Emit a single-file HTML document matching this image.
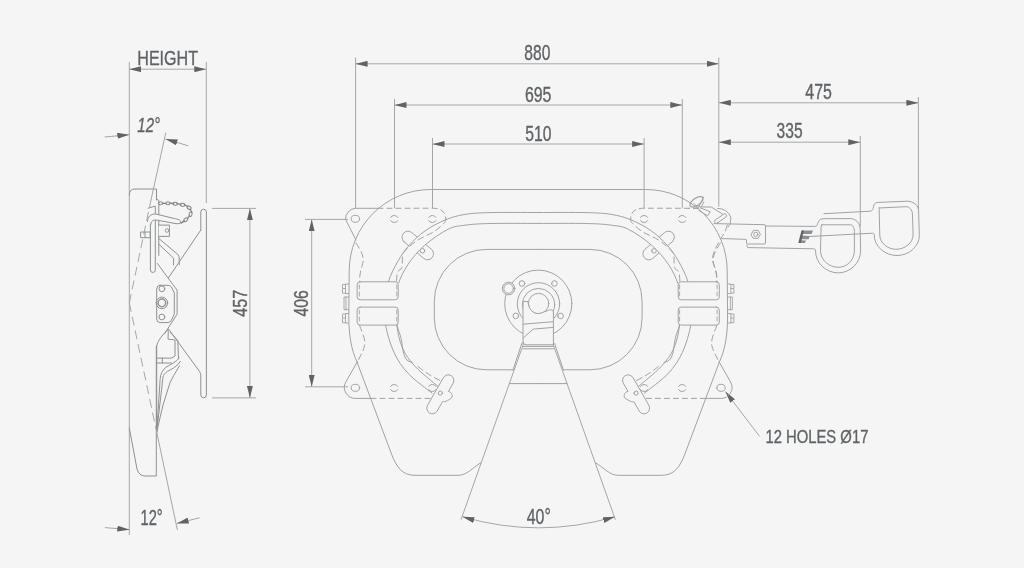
<!DOCTYPE html>
<html><head><meta charset="utf-8">
<style>
html,body{margin:0;padding:0;background:#f5f5f5;overflow:hidden;}
svg{display:block;will-change:transform;}
text{font-family:"Liberation Sans",sans-serif;fill:#5f6366;}
</style></head>
<body>
<svg width="1024" height="568" viewBox="0 0 1024 568">
<defs>
<marker id="ar" viewBox="0 0 12 6" refX="12" refY="3" markerWidth="12" markerHeight="6" markerUnits="userSpaceOnUse" orient="auto-start-reverse">
<path d="M0,0 L12,3 L0,6 Z" fill="#5f6365"/>
</marker>
</defs>
<rect width="1024" height="568" fill="#f5f5f5"/>
<g stroke="#a5a7a7" stroke-width="1" fill="none">
  <line x1="129.3" y1="62" x2="129.3" y2="535"/>
  <line x1="206.3" y1="62" x2="206.3" y2="203"/>
  <line x1="129.3" y1="69.2" x2="206.3" y2="69.2" marker-start="url(#ar)" marker-end="url(#ar)"/>
  <line x1="104.7" y1="137" x2="129.3" y2="134.7" marker-end="url(#ar)"/>
  <line x1="188.3" y1="145.8" x2="165.5" y2="139" marker-end="url(#ar)"/>
  <line x1="104.8" y1="527.6" x2="129.3" y2="529.6" marker-end="url(#ar)"/>
  <line x1="199.6" y1="517.8" x2="176.7" y2="523.4" marker-end="url(#ar)"/>
  <line x1="212" y1="208.4" x2="256" y2="208.4"/>
  <line x1="212" y1="397.9" x2="256" y2="397.9"/>
  <line x1="249.9" y1="208.4" x2="249.9" y2="397.9" marker-start="url(#ar)" marker-end="url(#ar)"/>
  <line x1="305" y1="219.4" x2="348" y2="219.4"/>
  <line x1="305" y1="386.8" x2="348" y2="386.8"/>
  <line x1="311.7" y1="219.4" x2="311.7" y2="386.8" marker-start="url(#ar)" marker-end="url(#ar)"/>
  <line x1="355.6" y1="57.5" x2="355.6" y2="208.3"/>
  <line x1="718.8" y1="57.5" x2="718.8" y2="206.6"/>
  <line x1="355.6" y1="63.8" x2="718.8" y2="63.8" marker-start="url(#ar)" marker-end="url(#ar)"/>
  <line x1="394.5" y1="99" x2="394.5" y2="208.3"/>
  <line x1="682.3" y1="99" x2="682.3" y2="208.3"/>
  <line x1="394.5" y1="105" x2="682.3" y2="105" marker-start="url(#ar)" marker-end="url(#ar)"/>
  <line x1="432.5" y1="138" x2="432.5" y2="208.3"/>
  <line x1="644.1" y1="138" x2="644.1" y2="208.3"/>
  <line x1="432.5" y1="144" x2="644.1" y2="144" marker-start="url(#ar)" marker-end="url(#ar)"/>
  <line x1="918.4" y1="97" x2="918.4" y2="209"/>
  <line x1="718.8" y1="102.8" x2="918.4" y2="102.8" marker-start="url(#ar)" marker-end="url(#ar)"/>
  <line x1="860.3" y1="136" x2="860.3" y2="226.5"/>
  <line x1="718.8" y1="142.2" x2="860.3" y2="142.2" marker-start="url(#ar)" marker-end="url(#ar)"/>
  <line x1="522.7" y1="346" x2="461" y2="519.7"/>
  <line x1="553.7" y1="346" x2="615.4" y2="519.7"/>
  <path d="M462.5,516.7 Q538.2,539 615,516.7" marker-start="url(#ar)" marker-end="url(#ar)"/>
  <line x1="759.6" y1="436.4" x2="725.4" y2="391.5" marker-end="url(#ar)"/>
</g>
<g stroke="#5f6366" stroke-width="0.35" style="opacity:0.995">
<text x="137.3" y="65.2" font-size="20.5" textLength="60.7" lengthAdjust="spacingAndGlyphs">HEIGHT</text>
<text x="524.3" y="60.1" font-size="21.5" textLength="26" lengthAdjust="spacingAndGlyphs">880</text>
<text x="524.9" y="101.8" font-size="21.5" textLength="26.6" lengthAdjust="spacingAndGlyphs">695</text>
<text x="525.3" y="140.6" font-size="21.5" textLength="26.2" lengthAdjust="spacingAndGlyphs">510</text>
<text x="805.3" y="98.9" font-size="21.5" textLength="26.6" lengthAdjust="spacingAndGlyphs">475</text>
<text x="776.6" y="138.4" font-size="21.5" textLength="26" lengthAdjust="spacingAndGlyphs">335</text>
<text x="137.3" y="132.2" font-size="21" font-style="italic" textLength="22.8" lengthAdjust="spacingAndGlyphs">12°</text>
<text x="140.5" y="525.2" font-size="21.5" textLength="22.2" lengthAdjust="spacingAndGlyphs">12°</text>
<text x="526.8" y="524.2" font-size="21.5" textLength="24" lengthAdjust="spacingAndGlyphs">40°</text>
<text x="765.4" y="443.2" font-size="19" textLength="103" lengthAdjust="spacingAndGlyphs">12 HOLES Ø17</text>
<text transform="translate(246.8,316.8) rotate(-90)" font-size="20.5" textLength="27" lengthAdjust="spacingAndGlyphs">457</text>
<text transform="translate(308.2,316.5) rotate(-90)" font-size="20.5" textLength="26.4" lengthAdjust="spacingAndGlyphs">406</text>
</g>
<g stroke="#a0a3a3" stroke-width="1" fill="none" stroke-linejoin="round" stroke-linecap="round">
<g id="half">
<path d="M538.2,189.5 L430.7,189.5 A81.5,81.5 0 0 0 349.2,271 L348.8,316 C348.8,336 351.5,350 357,362 L391.5,454 C396.5,467 402,475.3 415,475.3 L458,475.3 C467,475.3 472,468 480.8,462.8"/>
<path d="M378,208.3 L432.4,208.2 Q445.7,208.2 445.7,218.75" stroke-dasharray="5,4"/>
<path d="M357.5,361.5 L345.8,382 A11,11 0 0 0 356,398.4 L371,398.4"/>
<ellipse cx="355.4" cy="387.8" rx="4.2" ry="3.5"/>
<path d="M371,398.4 L431,398.4" stroke-dasharray="5,4"/>
<path d="M356,243 C362,252 365,258 362,266 C360,272 359.5,278 359.5,282" stroke-dasharray="6,4"/>
<path d="M359.6,325.6 C362,332 366,340 364.5,346 C363,352 360,356 358,361" stroke-dasharray="6,4"/>
<path d="M404.11,241.77 L423.61,258.37 A6.00,6.00 0 0 0 431.39,249.23 L411.89,232.63 A6.00,6.00 0 0 0 404.11,241.77 Z" fill="#f5f5f5"/>
<circle cx="422.4" cy="250.8" r="2.3"/>
<path d="M538.20,212.50 C524.63,212.52 502.20,212.28 490.00,212.60 C477.80,212.92 472.45,213.18 465.00,214.40 C457.55,215.62 451.97,217.15 445.30,219.90 C438.63,222.65 431.03,226.65 425.00,230.90 C418.97,235.15 413.60,240.38 409.10,245.40 C404.60,250.42 401.45,254.93 398.00,261.00 C394.55,267.07 390.52,274.80 388.40,281.80 C386.28,288.80 385.77,295.80 385.30,303.00 C384.83,310.20 384.15,316.77 385.60,325.00 C387.05,333.23 390.23,344.32 394.00,352.40 C397.77,360.48 401.85,366.70 408.20,373.50 C414.55,380.30 428.12,389.92 432.10,393.20 L437.70,386.20C433.95,382.92 421.07,372.83 415.20,366.50 C409.33,360.17 405.57,355.12 402.50,348.20 C399.43,341.28 397.78,332.53 396.80,325.00 C395.82,317.47 396.37,309.73 396.60,303.00 C396.83,296.27 396.30,291.03 398.20,284.60 C400.10,278.17 403.60,270.93 408.00,264.40 C412.40,257.87 417.93,251.25 424.60,245.40 C431.27,239.55 441.27,232.67 448.00,229.30 C454.73,225.93 458.00,226.17 465.00,225.20 C472.00,224.23 477.80,223.80 490.00,223.50 C502.20,223.20 524.63,223.42 538.20,223.40 Z" fill="#f5f5f5" stroke="none"/>
<path d="M538.20,212.50 C524.63,212.52 502.20,212.28 490.00,212.60 C477.80,212.92 472.45,213.18 465.00,214.40 C457.55,215.62 451.97,217.15 445.30,219.90 C438.63,222.65 431.03,226.65 425.00,230.90 C418.97,235.15 413.60,240.38 409.10,245.40 C404.60,250.42 401.45,254.93 398.00,261.00 C394.55,267.07 390.52,274.80 388.40,281.80 C386.28,288.80 385.77,295.80 385.30,303.00 C384.83,310.20 384.15,316.77 385.60,325.00 C387.05,333.23 390.23,344.32 394.00,352.40 C397.77,360.48 401.85,366.70 408.20,373.50 C414.55,380.30 428.12,389.92 432.10,393.20"/>
<path d="M538.20,223.40 C524.63,223.42 502.20,223.20 490.00,223.50 C477.80,223.80 472.00,224.23 465.00,225.20 C458.00,226.17 454.73,225.93 448.00,229.30 C441.27,232.67 431.27,239.55 424.60,245.40 C417.93,251.25 412.40,257.87 408.00,264.40 C403.60,270.93 400.10,278.17 398.20,284.60 C396.30,291.03 396.83,296.27 396.60,303.00 C396.37,309.73 395.82,317.47 396.80,325.00 C397.78,332.53 399.43,341.28 402.50,348.20 C405.57,355.12 409.33,360.17 415.20,366.50 C421.07,372.83 433.95,382.92 437.70,386.20"/>
<path d="M445.70,218.75 C445.50,219.41 446.25,220.67 444.50,222.70 C442.75,224.72 438.18,228.77 435.20,230.90 C432.22,233.03 429.43,234.02 426.60,235.50 C423.77,236.98 420.97,238.05 418.20,239.80 C415.43,241.55 412.37,243.97 410.00,246.00 C407.63,248.03 405.25,250.33 404.00,252.00 C402.75,253.67 402.87,253.38 402.50,256.00 C402.13,258.62 402.63,265.03 401.80,267.70 C400.97,270.37 398.38,269.62 397.50,272.00 C396.62,274.38 396.67,280.33 396.50,282.00" stroke-dasharray="6,4"/>
<path d="M396.9,325 C398,330 400,333 401,338.3 C402,342 402,345 402.5,346.8 C403,352 404,355 405.4,358 C407,361 410,362 412.4,362.3" />
<path d="M418,366.5 C426,373 434,378 443.4,382" stroke-dasharray="6,4"/>
<rect x="356.5" y="283" width="42.5" height="41" fill="#f5f5f5" stroke="none"/>
<rect x="357.1" y="281.8" width="41.1" height="18" rx="3" fill="#f5f5f5"/>
<rect x="357.1" y="307.1" width="41.1" height="18" rx="3" fill="#f5f5f5"/>
<path d="M359.3,285 L359.3,297 M396.8,285 L396.8,297 M359.3,310 L359.3,322 M396.8,310 L396.8,322" stroke-dasharray="4,3" stroke-width="0.9"/>
<path d="M348.5,284 L345.5,284 L345.5,293.5 L348.5,293.5 M345.5,284.5 L342.5,284.5 L342.5,288.5 L345.5,288.5 M342.5,289.2 L342.5,293.2 L345.5,293.2" stroke-width="0.9"/>
<path d="M348.5,313.5 L345.5,313.5 L345.5,323 L348.5,323 M345.5,314 L342.5,314 L342.5,318 L345.5,318 M342.5,318.7 L342.5,322.7 L345.5,322.7" stroke-width="0.9"/>
<path d="M348.5,297 L344,297 L344,309.7 L348.5,309.7 M346,297 L346,309.7" stroke-width="0.9"/>
<path d="M443.44,377.52 A5.60,5.60 0 0 1 453.16,383.08 L448.36,391.48 C452.36,391.98 452.86,396.48 451.56,398.02 C445.10,402.56 443.60,401.76 442.60,401.56 L437.16,411.08 A5.60,5.60 0 0 1 427.44,405.52 Z" fill="#f5f5f5"/>
<circle cx="440.3" cy="393.1" r="2.1"/>
<path d="M390.60,217.40 A3.9,3.1 0 0 1 397.80,217.40 M390.60,220.60 A3.9,3.1 0 0 0 397.80,220.60"/>
<path d="M428.70,217.40 A3.9,3.1 0 0 1 435.90,217.40 M428.70,220.60 A3.9,3.1 0 0 0 435.90,220.60"/>
<path d="M390.60,386.40 A3.9,3.1 0 0 1 397.80,386.40 M390.60,389.60 A3.9,3.1 0 0 0 397.80,389.60"/>
<path d="M428.70,386.40 A3.9,3.1 0 0 1 435.90,386.40 M428.70,389.60 A3.9,3.1 0 0 0 435.90,389.60"/>
<path d="M538.2,249.4 L486.4,249.4 A52.1,52.1 0 0 0 434.3,301.5 L434.3,317.7 A52.1,52.1 0 0 0 486.4,369.8 L513,369.8"/>
<path d="M521.8,343.5 L513,370"/>
<path d="M509.4,383.6 L538.2,383.6"/>
<circle cx="522" cy="283.5" r="2.8"/>
<circle cx="515.8" cy="315.9" r="2.8"/>
</g>
<use href="#half" transform="matrix(-1 0 0 1 1076.4 0)"/>
<circle cx="538.3" cy="303.7" r="33.6"/>
<circle cx="538.5" cy="303.9" r="21.2"/>
<circle cx="538.5" cy="304.6" r="16.2"/>
<circle cx="538.6" cy="303.6" r="10.2"/>
<circle cx="508.6" cy="288.5" r="6.3" fill="#f5f5f5"/>
<circle cx="508.6" cy="288.5" r="4.8"/>
<path d="M523,346 L523,301.5 L527.8,301.5 L528.6,305 C529.5,309.5 533,313.5 538,313.6 C541,313.6 543.5,311.8 546,311.2 C548,310.6 549,309.8 550.2,309.8 C551.5,309.8 552.5,310.3 553.4,311 L553.4,346 Z" fill="#f5f5f5"/>
<path d="M523,324.2 L553.4,321.7"/>
<path d="M523.6,337.7 L533.3,329.1 L553.4,327.4"/>
<path d="M523,342 Q523,344.8 526,344.8 L553.4,344.8 M523,348.8 L553.4,348.8"/>
</g>
<g stroke="#a0a3a3" stroke-width="1" fill="none" stroke-linejoin="round" stroke-linecap="round">
<path d="M378,208.3 L355.6,208.3 A10.5,10.5 0 0 0 345.6,219.5 L356,240"/>
<ellipse cx="355.4" cy="218.8" rx="4.2" ry="3.5"/>
<path d="M698.4,208.3 L688.7,208.4" stroke-dasharray="5,4"/>
<path d="M717.7,208.4 A13,13 0 0 1 730.7,217 C731,222 730,225 728.2,227" />
<path d="M727.4,225 C726,229 725.5,231 725,231.8 C722,237 719,241 717,245.6 C714.5,250 712.5,255 712.5,259.3 C712.5,264 715,267 716,270.8 C717,275 717,279 717,282" stroke-dasharray="6,4"/>
<!-- handle arm -->
<path d="M714,223.6 L764.6,224.7 C765.3,224.7 765.5,225.3 765.5,226 L765.5,243 C765.5,243.7 765,244 764.5,244 L747.5,244 C747,244 746.5,243.5 746.5,243 L746.5,240 C746.5,239.5 746,239.3 745.5,239.3 L722,238.6"/>
<path d="M765.5,226 L814.7,226.4 C817,226.4 817.5,225 818,222.5 C819,219.5 821,218.8 824.4,218.7 L850.7,218.6 C856,218.8 860,223 860.2,229.7 L860.6,250.7 C860.6,263 850,272.9 838.4,272.9 C826,272.9 815.5,263 815.5,250.7 L815.5,251 C815.5,249.5 815,248.8 813.5,248.8 L748,247.6 C747.2,247.6 747,246.5 747,245"/>
<path d="M821.7,224.8 L850.7,224.8 C852.5,224.8 854.4,227.5 854.4,231.6 L854.4,250.7 C854.4,260 847,267.3 838.4,267.3 C829,267.3 820.5,260 820.5,250.7 L821,229 C821,226 821.5,224.8 821.7,224.8 Z"/>
<path d="M824,213.7 L870,211.2 C872,211 873,210 873.6,206.1 C874.5,203 876,202.4 878.6,202.4 L906.9,201.2 C913,201.1 918.5,205 918.6,211 L919.3,235.7 C919.5,246 909,255.6 897,255.5 C885,255.4 874.5,247 874.2,235 L874.2,235 C874.2,233.6 873.5,233.2 872.5,233.2 L809.4,236.5"/>
<path d="M879.2,208 L905.7,206.7 C909.5,206.6 912.5,210 912.5,214.7 L913.1,234.5 C913.3,242.5 905,249.5 895.8,249.3 C887,249.1 880,242.5 879.8,235.7 L879.2,211 C879.2,209 879.2,208 879.2,208 Z"/>
<!-- nut -->
<path d="M751.2,234.3 L753.5,230.3 L758.1,230.3 L760.4,234.3 L758.1,238.3 L753.5,238.3 Z"/>
<circle cx="755.8" cy="234.3" r="2.1"/>
<!-- pin + latch -->
<path d="M717.23,223.08 L725.83,217.08 A1.80,1.80 0 0 0 723.77,214.12 L715.17,220.12 A1.80,1.80 0 0 0 717.23,223.08 Z" fill="#f5f5f5"/>
<path d="M694,203.5 L697.3,206.8 L711.5,207.1 L722.7,214.2"/>
<path d="M700.4,207.9 L710.3,211.8 L707.5,215.8 L699,210.5"/>
<ellipse cx="696.5" cy="201.8" rx="7.5" ry="3.6" transform="rotate(-35 696.5 201.8)" stroke="#a0a3a3" stroke-width="1.3" stroke-dasharray="1.2,0.8"/>
<path d="M699,206.5 L703.5,197 M701.5,206.7 L703.8,202" stroke-width="0.9"/>
</g>
<g fill="#6a6d70" stroke="none">
<path d="M801.8,230.4 L813,230.6 L811.6,233.9 L801,233.9 Z M800.6,235.6 L809.9,235.9 L808.6,239.2 L799.8,239.2 Z M799.6,240.3 L806,240.5 L805,243.1 L799,243.1 Z" fill="#8c8f92"/>
<path d="M801.5,230.4 L803.9,230.4 L800.8,243.1 L798.3,243.1 Z" fill="#5f6366"/>
</g>
<g stroke="#8e9191" stroke-width="1" fill="none" stroke-linejoin="round" stroke-linecap="round">
<!-- side plate -->
<path d="M129.3,195 Q129.3,189 135,189 L156.5,189 L156.5,200"/>
<path d="M129.3,428 L137,469 Q139,476 145,476 L156.3,476 L156.3,346.1"/>
<!-- hook plate -->
<path d="M200.8,230 L200.8,212 A2.8,2.8 0 0 1 206.4,212 L206.4,395 A2.8,2.8 0 0 1 200.8,395 L200.8,377 C200.8,374.5 200.5,373 199.6,371.5 L168.7,329.2"/>
<path d="M200.8,230 L168.5,277.8"/>
<!-- boss -->
<path d="M157.4,263.5 L177.1,290.2 L177.1,314.2 L164.4,333.9"/>
<path d="M160,285.3 L168,285.3 Q170,285.3 171.5,287 L174.3,293 L174.3,314 L171.5,320 Q170,322.6 168,322.6 L160,322.6 Q156.7,322.6 156.7,319 L156.7,289 Q156.7,285.3 160,285.3 Z"/>
<circle cx="161.9" cy="288.8" r="2.9"/>
<circle cx="161.9" cy="302.9" r="5.8"/>
<circle cx="161.9" cy="302.9" r="3.8" stroke-width="1.5"/>
<circle cx="161.9" cy="317" r="2.9"/>
<!-- lower ramp -->
<path d="M168.7,329.2 C163,334 158,340 156.7,346.1 L156.7,432"/>
<path d="M168.3,331 L168,339.1 L175,340 L175,356 L171.5,358.1 L156.7,358.1 M156.7,363 L171.5,363 M162.3,358.1 L162.3,363"/>
<path d="M170.5,332.5 L177.8,340.5 L178.5,358.8"/>
<path d="M179.2,358.1 C176,362 170,365 165.8,367.3 C162,371 160.5,374 160.2,378.5 L156.7,432"/>
<path d="M180.3,361.5 C178,366 172,369 167.3,371.5 C164.5,373.5 163.5,375 163,377 L156.7,432"/>
<path d="M179.5,365.8 L173.6,375.7 L170,382.7 L163,405 L156.7,432"/>
<!-- lever -->
<path d="M156.7,199.1 L158.8,200.5 L158.8,255.4"/>
<path d="M148.2,208.2 L155.3,206.1 L155.3,219 L148.2,219"/>
<path d="M150.4,218.8 L150.4,270 A2.45,2.45 0 0 0 155.3,270 L155.3,218.8"/>
<path d="M158.8,225.1 L169.4,225.1 L169.4,236.4 L158.8,236.4" fill="#f5f5f5"/>
<circle cx="167" cy="230.5" r="1.8" stroke-width="0.9"/>
<path d="M141,232 L150.2,232 L150.2,237.7 L141,237.7 Z M145,232 L145,237.7"/>
<path d="M147.5,221.5 C147.5,217 150.5,214 155.3,213.9 L174.3,218.5 C178,219.3 180.8,220 180.8,222 C180.8,223.8 178,224 175,223.5 L157.5,220.2 C153,219.5 151,221 151,224" fill="#f5f5f5"/>
<path d="M158.8,238.5 L175.7,252.6 C178,254.5 179.2,255.5 179.2,258 L179.2,265"/>
<path d="M158.8,244.2 L173.6,258.2 L173.6,265"/>
<g stroke="#838686" stroke-width="1">
<ellipse cx="160.63" cy="203.30" rx="2.3" ry="1.5" transform="rotate(0.0 160.63 203.30)"/>
<path d="M162.30,203.30 L166.30,203.30" transform="rotate(0.0 164.30 203.30)" stroke-width="1.3"/>
<ellipse cx="167.96" cy="203.30" rx="2.3" ry="1.5" transform="rotate(0.0 167.96 203.30)"/>
<path d="M169.63,203.31 L173.63,203.31" transform="rotate(5.7 171.63 203.31)" stroke-width="1.3"/>
<ellipse cx="175.28" cy="203.68" rx="2.3" ry="1.5" transform="rotate(5.7 175.28 203.68)"/>
<path d="M176.92,204.08 L180.92,204.08" transform="rotate(11.2 178.92 204.08)" stroke-width="1.3"/>
<ellipse cx="182.52" cy="204.79" rx="2.3" ry="1.5" transform="rotate(11.2 182.52 204.79)"/>
<path d="M184.04,205.69 L188.04,205.69" transform="rotate(33.7 186.04 205.69)" stroke-width="1.3"/>
<ellipse cx="189.09" cy="207.72" rx="2.3" ry="1.5" transform="rotate(33.7 189.09 207.72)"/>
<path d="M189.06,210.76 L193.06,210.76" transform="rotate(60.5 191.06 210.76)" stroke-width="1.3"/>
<ellipse cx="190.54" cy="214.32" rx="2.3" ry="1.5" transform="rotate(101.3 190.54 214.32)"/>
<path d="M186.46,217.32 L190.46,217.32" transform="rotate(125.9 188.46 217.32)" stroke-width="1.3"/>
<ellipse cx="185.76" cy="219.80" rx="2.3" ry="1.5" transform="rotate(137.6 185.76 219.80)"/>
<path d="M180.82,221.97 L184.82,221.97" transform="rotate(146.0 182.82 221.97)" stroke-width="1.3"/>
</g>
</g>
<g stroke="#a5a7a7" stroke-width="1" fill="none">
  <path d="M165.8,132.6 L151,200"/>
  <path d="M129.3,303 L151,200" stroke-dasharray="9,5"/>
  <path d="M129.3,303 L156.7,432" stroke-dasharray="9,5"/>
  <path d="M156.7,432 L177.4,530"/>
</g>
</svg>
</body></html>
